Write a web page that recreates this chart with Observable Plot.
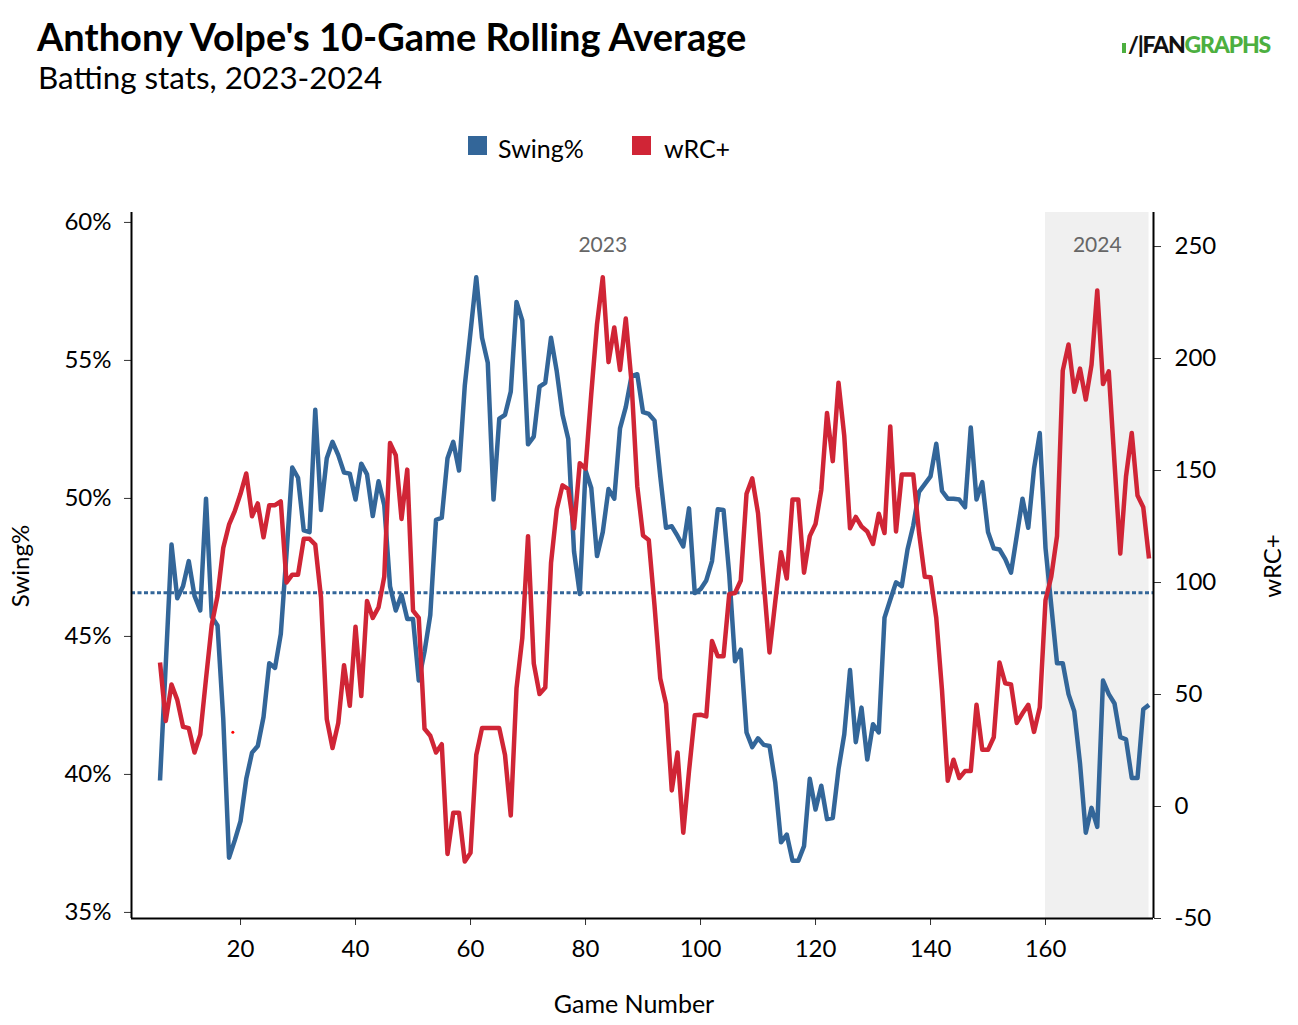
<!DOCTYPE html>
<html>
<head>
<meta charset="utf-8">
<script src="https://cdn.jsdelivr.net/npm/d3@7"></script>
<script src="https://cdn.jsdelivr.net/npm/@observablehq/plot@0.6"></script>
<style>
  body { margin: 0; background: #fff; font-family: Lato, "Noto Sans", sans-serif; }
  #wrap { position: relative; width: 1298px; height: 1025px; overflow: hidden; background: #fff; }
  .abs { position: absolute; white-space: nowrap; line-height: 1; color: #000; }
  #chart { position: absolute; left: 0; top: 0; }
</style>
</head>
<body>
<div id="wrap">
  <div id="chart"></div>
  <div class="abs" style="left:37px;top:16.5px;font-size:38px;font-weight:700;">Anthony Volpe's 10-Game Rolling Average</div>
  <div class="abs" style="left:38px;top:61.5px;font-size:31.4px;">Batting stats, 2023-2024</div>

  <div class="abs" style="left:468px;top:136px;width:19px;height:19px;background:#336699;"></div>
  <div class="abs" style="left:498px;top:136px;font-size:25px;">Swing%</div>
  <div class="abs" style="left:632px;top:136px;width:19px;height:19px;background:#d02536;"></div>
  <div class="abs" style="left:664px;top:136px;font-size:25px;">wRC+</div>

  <div class="abs" style="left:1122px;top:33px;font-size:23px;font-weight:900;letter-spacing:-1.2px;">
    <span style="display:inline-block;width:4px;height:10px;background:#4caf3f;margin-right:2px;"></span><span style="color:#111;">/|FAN</span><span style="color:#4caf3f;">GRAPHS</span>
  </div>

  <div class="abs" style="left:634px;top:991px;font-size:25px;transform:translateX(-50%);">Game Number</div>
  <div class="abs" style="left:20px;top:566px;font-size:24px;transform:translate(-50%,-50%) rotate(-90deg);">Swing%</div>
  <div class="abs" style="left:1272px;top:566px;font-size:24px;transform:translate(-50%,-50%) rotate(-90deg);">wRC+</div>
</div>
<script>
// ---- data (10-game rolling averages, games 6..178) ----
const firstGame = 6;

const swingPct = [
  39.78, 44.0, 48.33, 46.38, 46.82, 47.73, 46.47, 45.94, 49.99, 45.71,   // 6-15
  45.40, 42.0, 36.98, 37.61, 38.31, 39.84, 40.79, 41.03, 42.08, 44.03,   // 16-25
  43.86, 45.08, 48.0, 51.12, 50.75, 48.84, 48.78, 53.21, 49.58, 51.46,   // 26-35
  52.05, 51.57, 50.94, 50.90, 49.96, 51.26, 50.87, 49.36, 50.62, 49.75,  // 36-45
  46.82, 45.94, 46.51, 45.63, 45.63, 43.40, 44.45, 45.77, 49.22, 49.30,  // 46-55
  51.46, 52.05, 51.01, 54.08, 56.03, 58.01, 55.82, 54.92, 49.96, 52.89,  // 56-65
  53.03, 53.87, 57.12, 56.45, 51.96, 52.24, 54.05, 54.19, 55.82, 54.6,   // 66-75
  53.03, 52.15, 48.08, 46.54, 51.01, 50.38, 47.91, 48.78, 50.34, 49.99,  // 76-85
  52.54, 53.31, 54.43, 54.50, 53.13, 53.06, 52.82, 50.80, 48.94, 48.99,  // 86-95
  48.64, 48.26, 49.64, 46.57, 46.71, 47.03, 47.73, 49.61, 49.58, 47.24,  // 96-105
  44.10, 44.52, 41.52, 40.99, 41.31, 41.07, 41.03, 39.70, 37.54, 37.82,  // 106-115
  36.87, 36.87, 37.40, 39.84, 38.73, 39.59, 38.38, 38.42, 40.19, 41.45,  // 116-125
  43.78, 41.17, 42.42, 40.54, 41.82, 41.52, 45.68, 46.33, 46.96, 46.82,  // 126-135
  48.15, 49.02, 50.24, 50.52, 50.80, 51.98, 50.27, 49.99, 49.99, 49.96,  // 136-145
  49.68, 52.57, 49.96, 50.59, 48.78, 48.19, 48.15, 47.80, 47.31, 48.64,  // 146-155
  49.99, 48.94, 51.08, 52.37, 48.2, 46.12, 44.03, 44.03, 42.91, 42.29,   // 156-165
  40.40, 37.89, 38.79, 38.10, 43.40, 42.91, 42.57, 41.35, 41.27, 39.87,  // 166-175
  39.87, 42.36, 42.52                                                    // 176-178
];

const wrcPlus = [
  64.3, 38.2, 54.5, 47.6, 35.6, 35.0, 24.1, 32.1, 57.1, 81.2,            // 6-15
  94.0, 115.5, 125.8, 131.9, 139.6, 148.7, 129.6, 135.3, 120.2, 134.5,   // 16-25
  134.5, 136.2, 100.0, 103.5, 103.5, 119.5, 119.5, 116.9, 93.2, 39.0,    // 26-35
  26.1, 37.3, 63.1, 45.0, 80.3, 49.3, 91.8, 84.2, 88.9, 102.6,           // 36-45
  162.3, 156.8, 128.4, 150.4, 87.5, 84.2, 34.7, 31.6, 24.1, 27.8,        // 46-55
  -21.2, -2.8, -2.8, -24.6, -20.7, 23.0, 35.0, 35.0, 35.0, 35.0,         // 56-65
  23.0, -4.0, 52.8, 75.1, 120.7, 63.9, 50.2, 53.1, 108.7, 132.7,         // 66-75
  143.4, 141.7, 124.2, 153.3, 150.8, 184.3, 215.3, 236.3, 198.4, 213.9,  // 76-85
  194.9, 217.9, 189.5, 143.0, 121.0, 119.0, 89.7, 57.1, 45.9, 7.2,       // 86-95
  24.1, -11.7, 15.8, 40.7, 41.0, 40.2, 73.9, 67.1, 67.1, 94.9,           // 96-105
  95.3, 100.9, 139.6, 146.5, 131.0, 100.0, 68.8, 91.5, 113.5, 101.8,     // 106-115
  137.1, 137.1, 104.4, 120.7, 126.1, 141.3, 175.7, 154.2, 189.2, 165.4,  // 116-125
  124.2, 129.3, 125.0, 122.8, 117.2, 130.7, 122.1, 169.7, 122.8, 148.2,  // 126-135
  148.2, 148.2, 122.4, 102.6, 102.4, 84.2, 51.8, 11.5, 20.9, 12.7,       // 136-145
  15.8, 15.8, 45.4, 25.3, 25.3, 30.9, 64.3, 55.0, 54.5, 37.3,            // 146-155
  41.6, 45.4, 33.3, 44.2, 92.2, 102.6, 120.7, 194.6, 206.3, 185.2,       // 156-165
  195.5, 181.7, 197.2, 230.4, 188.6, 194.3, 153.3, 112.9, 147.4, 166.8,  // 166-175
  138.8, 133.6, 110.7                                                    // 176-178
];

// isolated wRC+ point drawn in the reference
const strayGame = [18.66];
const strayWrc = [33.2];

// reference (dotted) swing% level
const avgSwing = [46.58];

// season annotations
const yearLabels = ["2023", "2024"];
const yearLabelGames = [83, 169];
const shade2024 = [160, 178];

// axes
const gameTicks = [20, 40, 60, 80, 100, 120, 140, 160];
const swingTicks = [35, 40, 45, 50, 55, 60];
const wrcTicks = [-50, 0, 50, 100, 150, 200, 250];

const xDomain = [1.04, 178.78];
const swingDomain = [34.78, 60.36];
const wrcDomain = [-50, 265.2];

const blue = "#336699";
const red = "#d02536";

// ---- build ----
const toSwing = d3.scaleLinear().domain(wrcDomain).range(swingDomain);
const rows = swingPct.map((s, i) => ({game: firstGame + i, swing: s, wrc: wrcPlus[i]}));
const strayRows = strayGame.map((g, i) => ({game: g, wrc: strayWrc[i]}));
const yearRows = yearLabels.map((t, i) => ({label: t, game: yearLabelGames[i]}));
const shadeRows = [{start: shade2024[0], end: shade2024[1]}];

const chart = Plot.plot({
  width: 1298,
  height: 1025,
  marginLeft: 131,
  marginRight: 145,
  marginTop: 212,
  marginBottom: 107,
  style: {fontFamily: "Lato, 'Noto Sans', sans-serif", fontSize: "24px", color: "#000", background: "transparent"},
  x: {domain: xDomain, axis: null},
  y: {domain: swingDomain, axis: null},
  marks: [
    Plot.rect(shadeRows, {x1: "start", x2: "end", fill: "#f0f0f0"}),
    Plot.text(yearRows, {x: "game", text: "label", frameAnchor: "top", lineAnchor: "middle", dy: 33, fill: "#666", fontSize: 21}),
    Plot.ruleY(avgSwing, {stroke: blue, strokeWidth: 3, strokeDasharray: "4,2.5"}),
    Plot.line(rows, {x: "game", y: "swing", stroke: blue, strokeWidth: 4.5, strokeLinecap: "butt", strokeLinejoin: "round"}),
    Plot.line(rows, {x: "game", y: d => toSwing(d.wrc), stroke: red, strokeWidth: 4.5, strokeLinecap: "butt", strokeLinejoin: "round"}),
    Plot.dot(strayRows, {x: "game", y: d => toSwing(d.wrc), r: 1.5, fill: "#ff0000", stroke: null}),
    Plot.axisY(swingTicks, {anchor: "left", tickFormat: d => d + "%", tickSize: 7, tickPadding: 13, fontSize: 24, label: null, stroke: "#333"}),
    Plot.axisY(wrcTicks.map(w => toSwing(w)), {anchor: "right", tickFormat: d => String(Math.round(toSwing.invert(d))), tickSize: 7, tickPadding: 14, fontSize: 24, label: null, stroke: "#333"}),
    Plot.axisX(gameTicks, {anchor: "bottom", tickFormat: d => String(d), tickSize: 7, tickPadding: 14, fontSize: 24, label: null, stroke: "#333"}),
    Plot.ruleX(xDomain, {stroke: "#000", strokeWidth: 2}),
    Plot.ruleY([swingDomain[0]], {stroke: "#000", strokeWidth: 2})
  ]
});
document.getElementById("chart").appendChild(chart);
</script>
</body>
</html>
